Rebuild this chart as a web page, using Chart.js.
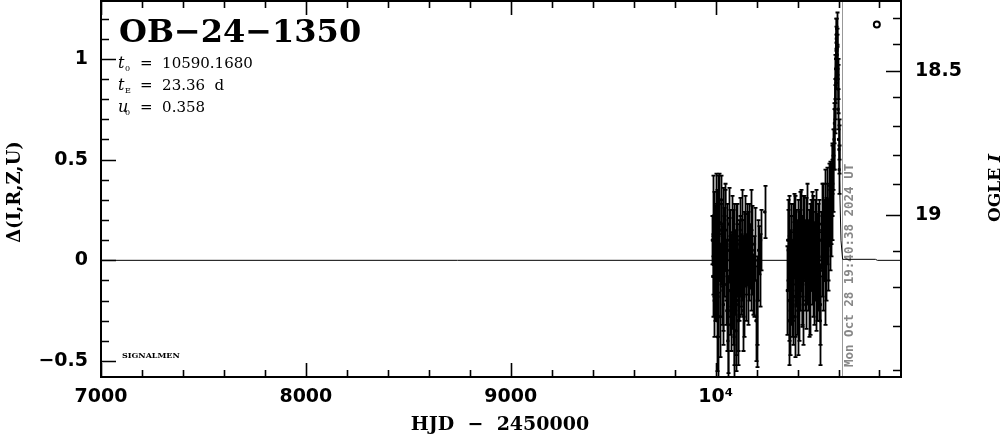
<!DOCTYPE html>
<html>
<head>
<meta charset="utf-8">
<script src="https://cdn.jsdelivr.net/npm/chart.js@4/dist/chart.umd.min.js"></script>
<style>
  html, body { margin: 0; padding: 0; background: #fff; }
  #wrap { width: 1004px; height: 434px; }
</style>
</head>
<body>
<div id="wrap"><canvas id="lc" width="1004" height="434"></canvas></div>
<script>
/* ── light curve data ── */
const hjd = [
  // 2023 season
  9984, 9988, 9991, 9994, 9997, 10000, 10004, 10007, 10010, 10013,
  10016, 10020, 10024, 10028, 10032, 10036, 10040, 10045, 10050, 10055,
  10060, 10064, 10068, 10072, 10076, 10080, 10084, 10088, 10092, 10096,
  10100, 10104, 10108, 10112, 10116, 10120, 10125, 10130, 10135, 10140,
  10145, 10150, 10156, 10162, 10168, 10175, 10182, 10190, 10197, 10203,
  10210, 10220, 10240,
  9986, 9989, 9993, 9999, 10002, 10009, 10012, 10018, 10022, 10026,
  10030, 10034, 10038, 10043, 10048, 10053, 10058, 10062, 10066, 10070,
  10074, 10078, 10082, 10086, 10090, 10094, 10098, 10102, 10106, 10110,
  10114, 10118, 10122, 10128, 10133, 10138, 10143, 10148, 10153, 10159,
  10165, 10172, 10179, 10186, 10200, 10206, 10215,
  // 2024 season
  10350, 10354, 10358, 10362, 10366, 10370, 10374, 10378, 10382, 10386,
  10390, 10394, 10398, 10402, 10406, 10410, 10414, 10418, 10422, 10426,
  10430, 10434, 10440, 10445, 10450, 10455, 10460, 10465, 10470, 10475,
  10480, 10485, 10490, 10495, 10500, 10505, 10510, 10515, 10520, 10525,
  10530, 10535, 10540, 10545, 10550, 10555, 10560, 10564, 10568, 10572,
  10576, 10580, 10583, 10586, 10588, 10590, 10592, 10594, 10596, 10598,
  10600, 10603,
  10352, 10356, 10360, 10364, 10368, 10372, 10376, 10380, 10384, 10388,
  10392, 10396, 10400, 10404, 10408, 10412, 10416, 10420, 10424, 10428,
  10432, 10437, 10442, 10447, 10452, 10457, 10462, 10467, 10472, 10477,
  10482, 10487, 10492, 10497, 10502, 10507, 10512, 10517, 10522, 10527,
  10532, 10537, 10542, 10547, 10552, 10557, 10562, 10566, 10570, 10574,
  10578, 10582, 10585, 10587, 10589, 10591, 10593, 10597, 10602
];
const dmag = [
  0.10, -0.02, 0.18, 0.02, -0.12, 0.25, 0.08, -0.30, -0.38, 0.22,
  0.05, -0.10, 0.15, 0.30, 0.02, -0.15, 0.12, 0.20, -0.05, -0.25,
  -0.40, 0.05, -0.15, 0.10, -0.05, 0.02, -0.22, -0.30, 0.08, -0.12,
  -0.35, 0.00, -0.20, 0.05, -0.08, 0.15, -0.15, 0.00, -0.25, 0.10,
  0.05, -0.10, 0.12, -0.05, 0.02, 0.15, -0.12, 0.08, -0.30, -0.20,
  0.05, 0.10, 0.24,
  -0.08, 0.22, -0.20, 0.05, -0.05, 0.15, -0.18, 0.28, -0.28, 0.08,
  -0.10, 0.18, -0.22, 0.02, 0.15, -0.12, 0.10, -0.32, 0.18, -0.08,
  -0.25, 0.12, -0.12, 0.05, -0.38, -0.05, 0.10, -0.22, 0.08, -0.30,
  -0.10, 0.02, -0.05, 0.20, -0.08, -0.18, 0.12, -0.02, 0.08, -0.12,
  0.10, -0.05, 0.05, -0.08, -0.28, 0.00, -0.05,
  -0.15, 0.05, -0.30, 0.00, -0.12, 0.10, -0.05, -0.22, 0.05, -0.18,
  0.12, -0.08, 0.02, -0.25, 0.08, 0.20, -0.05, 0.00, -0.15, 0.12,
  0.05, -0.10, 0.15, -0.02, 0.08, -0.18, 0.10, 0.00, 0.18, -0.08,
  0.05, 0.12, -0.15, 0.08, -0.05, 0.15, -0.30, 0.10, 0.02, 0.20,
  0.05, -0.10, 0.15, 0.28, 0.10, 0.22, 0.35, 0.20, 0.45, 0.38,
  0.55, 0.68, 0.80, 0.95, 1.08, 1.12, 1.05, 0.98, 0.90, 0.75,
  0.60, 0.45,
  0.10, -0.20, 0.12, -0.25, 0.02, -0.18, 0.08, -0.08, 0.15, -0.28,
  0.05, -0.15, 0.10, -0.05, -0.20, 0.05, 0.15, -0.10, 0.02, -0.22,
  0.12, 0.00, -0.12, 0.18, -0.05, 0.05, -0.15, 0.10, -0.02, 0.12,
  -0.12, 0.02, 0.15, -0.10, 0.08, -0.08, -0.22, 0.18, -0.05, 0.10,
  0.25, 0.00, 0.18, 0.05, 0.30, 0.15, 0.28, 0.40, 0.30, 0.50,
  0.60, 0.75, 0.90, 1.00, 1.10, 1.15, 1.02, 0.85, 0.55
];
const derr = [
  0.12, 0.15, 0.16, 0.20, 0.18, 0.18, 0.20, 0.25, 0.22, 0.20,
  0.14, 0.18, 0.15, 0.12, 0.15, 0.20, 0.14, 0.18, 0.15, 0.20,
  0.25, 0.16, 0.22, 0.15, 0.18, 0.12, 0.20, 0.22, 0.20, 0.15,
  0.20, 0.18, 0.25, 0.15, 0.20, 0.16, 0.12, 0.20, 0.20, 0.14,
  0.18, 0.20, 0.12, 0.15, 0.16, 0.20, 0.15, 0.18, 0.20, 0.22,
  0.12, 0.15, 0.13,
  0.20, 0.20, 0.18, 0.22, 0.25, 0.20, 0.20, 0.15, 0.20, 0.20,
  0.22, 0.18, 0.20, 0.20, 0.20, 0.20, 0.18, 0.24, 0.18, 0.20,
  0.20, 0.20, 0.22, 0.20, 0.20, 0.20, 0.18, 0.25, 0.20, 0.22,
  0.20, 0.20, 0.18, 0.15, 0.20, 0.20, 0.20, 0.15, 0.20, 0.20,
  0.18, 0.20, 0.22, 0.20, 0.25, 0.20, 0.18,
  0.22, 0.20, 0.22, 0.15, 0.20, 0.18, 0.15, 0.20, 0.14, 0.20,
  0.20, 0.15, 0.18, 0.22, 0.16, 0.14, 0.20, 0.15, 0.18, 0.20,
  0.14, 0.15, 0.16, 0.20, 0.12, 0.20, 0.18, 0.15, 0.16, 0.20,
  0.14, 0.18, 0.20, 0.15, 0.20, 0.15, 0.22, 0.14, 0.20, 0.18,
  0.15, 0.22, 0.16, 0.18, 0.20, 0.15, 0.14, 0.18, 0.12, 0.14,
  0.10, 0.10, 0.10, 0.10, 0.08, 0.08, 0.10, 0.08, 0.10, 0.10,
  0.10, 0.12,
  0.20, 0.20, 0.20, 0.22, 0.20, 0.20, 0.20, 0.22, 0.18, 0.20,
  0.20, 0.22, 0.20, 0.20, 0.20, 0.20, 0.20, 0.22, 0.20, 0.20,
  0.20, 0.20, 0.22, 0.20, 0.20, 0.20, 0.22, 0.20, 0.20, 0.20,
  0.20, 0.22, 0.20, 0.20, 0.20, 0.22, 0.20, 0.20, 0.20, 0.20,
  0.20, 0.20, 0.20, 0.20, 0.18, 0.20, 0.20, 0.18, 0.20, 0.15,
  0.15, 0.12, 0.12, 0.12, 0.10, 0.08, 0.10, 0.12, 0.12
];

/* PSPL model curve */
const modelT = [7000, 10480, 10520, 10540, 10560, 10570, 10580, 10585, 10590, 10595, 10600, 10605, 10612, 10620, 10780, 10790, 10905];
const modelY = [0, 0, 0.02, 0.05, 0.18, 0.36, 0.74, 1.01, 1.165, 1.03, 0.76, 0.40, 0.10, 0.005, 0.005, 0, 0];

/* latest point (open circle) */
const lastT = [10787];
const lastY = [1.17];

/* axes */
const xTicks = [7000, 8000, 9000, 10000];
const yTicks = [-0.5, 0, 0.5, 1];
const ogleMag = [18.3, 18.4, 18.5, 18.6, 18.7, 18.8, 18.9, 19.0, 19.1, 19.2, 19.3, 19.4];
const ogleAt = [1.2045, 1.0757, 0.9406, 0.8084, 0.6683, 0.5248, 0.3812, 0.2228, 0.0446, -0.1337, -0.3267, -0.5446];
const ogleLabels = [18.5, 19];
const NOW_HJD = 10615;

const TICK_FONT = { family: "'DejaVu Sans', sans-serif", size: 19, weight: 'bold' };
const minus = s => String(s).replace('-', '\u2212');
const noPad = s => { s.paddingTop = 0; s.paddingBottom = 0; s.paddingLeft = 0; s.paddingRight = 0; };

/* ── error bars ── */
const errorBars = {
  id: 'errorBars',
  afterDatasetsDraw(chart) {
    const { ctx, chartArea: a, scales: { x, y } } = chart;
    ctx.save();
    ctx.beginPath();
    ctx.rect(a.left, a.top, a.right - a.left, a.bottom - a.top);
    ctx.clip();
    ctx.strokeStyle = '#000';
    ctx.lineWidth = 1.8;
    hjd.forEach((t, i) => {
      const px = Math.round(x.getPixelForValue(t)) + 0.5;
      const y0 = y.getPixelForValue(dmag[i] + derr[i]);
      const y1 = y.getPixelForValue(dmag[i] - derr[i]);
      ctx.beginPath();
      ctx.moveTo(px, y0); ctx.lineTo(px, y1);
      ctx.moveTo(px - 2, y0); ctx.lineTo(px + 2, y0);
      ctx.moveTo(px - 2, y1); ctx.lineTo(px + 2, y1);
      ctx.stroke();
    });
    ctx.restore();
  }
};

/* ── frame, inward ticks, annotations ── */
const decor = {
  id: 'decor',
  beforeDatasetsDraw(chart) {
    const { ctx, chartArea: a, scales: { x } } = chart;
    const nx = Math.round(x.getPixelForValue(NOW_HJD)) + 0.5;
    ctx.save();
    ctx.strokeStyle = '#999';
    ctx.lineWidth = 1;
    ctx.beginPath();
    ctx.moveTo(nx, a.top); ctx.lineTo(nx, a.bottom);
    ctx.stroke();
    // date stamp
    ctx.translate(nx + 7, a.bottom - 10);
    ctx.rotate(-Math.PI / 2);
    ctx.fillStyle = '#888';
    ctx.font = "bold 12.5px 'DejaVu Sans Mono', monospace";
    ctx.textBaseline = 'middle';
    ctx.textAlign = 'left';
    ctx.fillText('Mon Oct 28 19:40:38 2024 UT', 0, 0);
    ctx.restore();
  },
  afterDraw(chart) {
    const { ctx, chartArea: a, scales: { x, y, y2 } } = chart;
    ctx.save();
    ctx.strokeStyle = '#000';
    ctx.lineWidth = 2;
    ctx.strokeRect(a.left, a.top, a.right - a.left, a.bottom - a.top);

    ctx.lineWidth = 1.6;
    ctx.beginPath();
    // x ticks, bottom and top
    for (let v = 7000; v <= x.max; v += 200) {
      const px = Math.round(x.getPixelForValue(v)) + 0.5;
      const len = v % 1000 === 0 ? 14 : 7;
      ctx.moveTo(px, a.bottom); ctx.lineTo(px, a.bottom - len);
      ctx.moveTo(px, a.top); ctx.lineTo(px, a.top + len);
    }
    // left ticks
    for (let k = -5; k <= 12; k++) {
      const py = Math.round(y.getPixelForValue(k / 10)) + 0.5;
      const len = k % 5 === 0 ? 15 : 8;
      ctx.moveTo(a.left, py); ctx.lineTo(a.left + len, py);
    }
    // right ticks (OGLE I)
    ogleMag.forEach((m, i) => {
      const py = Math.round(y2.getPixelForValue(ogleAt[i])) + 0.5;
      const len = ogleLabels.includes(m) ? 15 : 8;
      ctx.moveTo(a.right, py); ctx.lineTo(a.right - len, py);
    });
    ctx.stroke();

    ctx.fillStyle = '#000';
    ctx.textAlign = 'left';
    ctx.textBaseline = 'alphabetic';
    ctx.font = "bold 32px 'DejaVu Serif', serif";
    ctx.fillText('OB\u221224\u22121350', 119, 42);

    // event parameters
    const params = [['t', '0', '10590.1680', 68], ['t', 'E', '23.36  d', 90], ['u', '0', '0.358', 112]];
    params.forEach(([sym, sub, val, by]) => {
      ctx.font = "italic 16px 'DejaVu Serif', serif";
      ctx.fillText(sym, 118, by);
      ctx.font = "8px 'DejaVu Serif', serif";
      ctx.fillText(sub, 125, by + 3);
      ctx.font = "15px 'DejaVu Serif', serif";
      ctx.fillText('=  ' + val, 140, by);
    });

    ctx.font = "bold 8px 'DejaVu Serif', serif";
    ctx.fillText('SIGNALMEN', 122, 358);

    ctx.font = "bold 19px 'DejaVu Serif', serif";
    ctx.textAlign = 'center';
    ctx.fillText('HJD  \u2212  2450000', 500, 430);

    // left axis title
    ctx.save();
    ctx.translate(20, 192);
    ctx.rotate(-Math.PI / 2);
    ctx.font = "bold 18px 'DejaVu Serif', serif";
    ctx.fillText('\u0394(I,R,Z,U)', 0, 0);
    ctx.restore();

    // right axis title
    ctx.save();
    ctx.translate(1000, 188);
    ctx.rotate(-Math.PI / 2);
    ctx.textAlign = 'left';
    ctx.font = "bold 17px 'DejaVu Serif', serif";
    const w1 = ctx.measureText('OGLE ').width;
    ctx.font = "bold italic 17px 'DejaVu Serif', serif";
    const w2 = ctx.measureText('I').width;
    const x0 = -(w1 + w2) / 2;
    ctx.font = "bold 17px 'DejaVu Serif', serif";
    ctx.fillText('OGLE ', x0, 0);
    ctx.font = "bold italic 17px 'DejaVu Serif', serif";
    ctx.fillText('I', x0 + w1, 0);
    ctx.restore();
    ctx.restore();
  }
};

const Y_MIN = -0.579, Y_MAX = 1.287;

new Chart(document.getElementById('lc'), {
  type: 'scatter',
  data: {
    datasets: [
      {
        type: 'line',
        data: modelT.map((t, i) => ({ x: t, y: modelY[i] })),
        borderColor: '#000',
        borderWidth: 1,
        pointRadius: 0,
        tension: 0
      },
      {
        data: hjd.map((t, i) => ({ x: t, y: dmag[i] })),
        backgroundColor: '#000',
        borderColor: '#000',
        pointStyle: 'rect',
        pointRadius: 1.5
      },
      {
        data: lastT.map((t, i) => ({ x: t, y: lastY[i] })),
        backgroundColor: '#fff',
        borderColor: '#000',
        borderWidth: 2,
        pointRadius: 3
      }
    ]
  },
  options: {
    responsive: false,
    animation: false,
    devicePixelRatio: 1,
    layout: { autoPadding: false, padding: { top: 1, left: 0, right: 0, bottom: 0 } },
    plugins: { legend: { display: false }, tooltip: { enabled: false } },
    scales: {
      x: {
        type: 'linear',
        min: 7000,
        max: 10905,
        grid: { display: false, drawTicks: false },
        border: { display: false },
        afterBuildTicks: s => { s.ticks = xTicks.map(v => ({ value: v })); },
        afterFit: s => { s.height = 57; noPad(s); },
        ticks: {
          color: '#000',
          font: TICK_FONT,
          padding: 9,
          maxRotation: 0,
          callback: v => (v === 10000 ? '10\u2074' : String(v))
        }
      },
      y: {
        position: 'left',
        min: Y_MIN,
        max: Y_MAX,
        grid: { display: false, drawTicks: false },
        border: { display: false },
        afterBuildTicks: s => { s.ticks = yTicks.map(v => ({ value: v })); },
        afterFit: s => { s.width = 101; noPad(s); },
        ticks: { color: '#000', font: TICK_FONT, padding: 13, callback: v => minus(v) }
      },
      y2: {
        position: 'right',
        min: Y_MIN,
        max: Y_MAX,
        grid: { display: false, drawTicks: false },
        border: { display: false },
        afterBuildTicks: s => {
          s.ticks = ogleLabels.map(m => ({ value: ogleAt[ogleMag.indexOf(m)] }));
        },
        afterFit: s => { s.width = 103; noPad(s); },
        ticks: {
          color: '#000',
          font: TICK_FONT,
          padding: 14,
          callback: (v, i) => String(ogleLabels[i])
        }
      }
    }
  },
  plugins: [decor, errorBars]
});
</script>
</body>
</html>
